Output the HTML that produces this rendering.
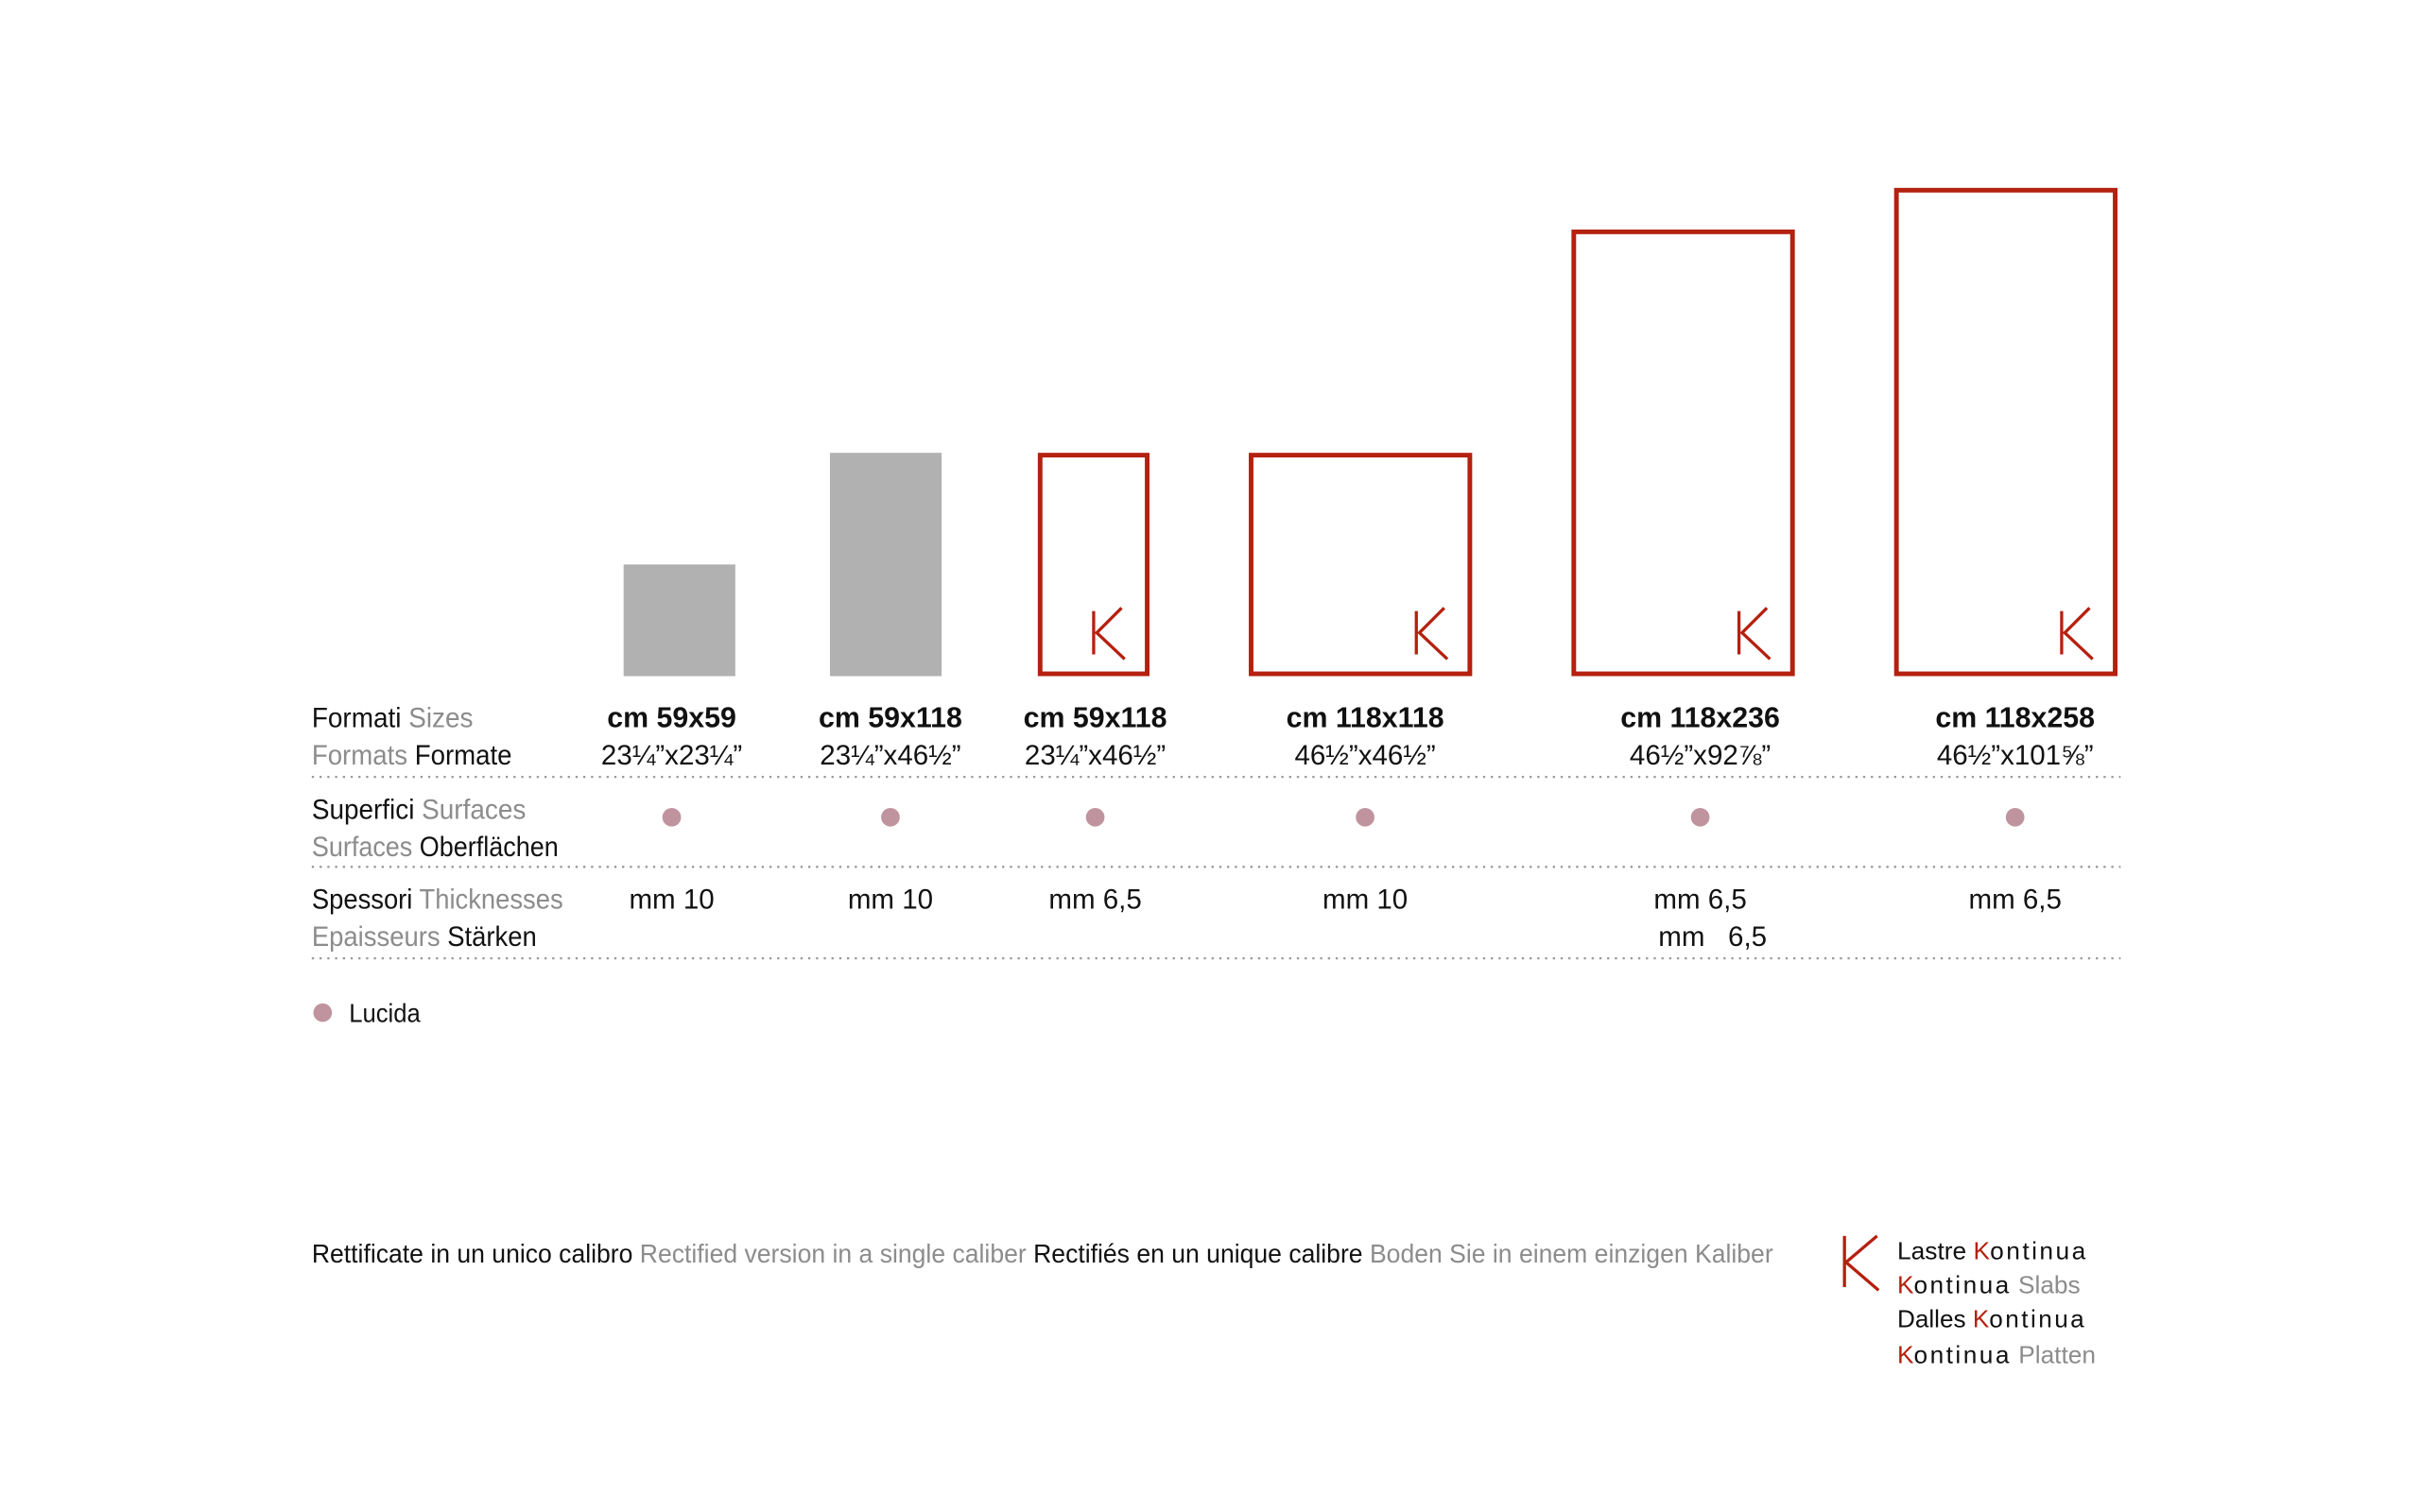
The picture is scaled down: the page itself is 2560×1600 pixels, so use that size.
<!DOCTYPE html>
<html><head><meta charset="utf-8"><style>
html,body{margin:0;padding:0;background:#fff;}
svg{display:block;}
text{font-family:"Liberation Sans Narrow","Liberation Sans",sans-serif;}
.b{font-family:"Liberation Sans",sans-serif;font-weight:bold;}
.r{font-family:"Liberation Sans",sans-serif;}
.g{fill:#8c8c8c;}
.k{fill:#111;}
</style></head><body>
<svg id="chart" width="2560" height="1600" viewBox="0 0 1560 975" xmlns="http://www.w3.org/2000/svg">
<g id="marks"></g>
<g id="labels"></g>
<g font-size="18">
<text x="201" y="469" textLength="104" lengthAdjust="spacingAndGlyphs"><tspan class="k">Formati</tspan><tspan class="g"> Sizes</tspan></text>
<text x="201" y="493" textLength="129" lengthAdjust="spacingAndGlyphs"><tspan class="g">Formats</tspan><tspan class="k"> Formate</tspan></text>
<text x="201" y="528" textLength="138" lengthAdjust="spacingAndGlyphs"><tspan class="k">Superfici</tspan><tspan class="g"> Surfaces</tspan></text>
<text x="201" y="552" textLength="159" lengthAdjust="spacingAndGlyphs"><tspan class="g">Surfaces</tspan><tspan class="k"> Oberflächen</tspan></text>
<text x="201" y="586" textLength="162" lengthAdjust="spacingAndGlyphs"><tspan class="k">Spessori</tspan><tspan class="g"> Thicknesses</tspan></text>
<text x="201" y="610" textLength="145" lengthAdjust="spacingAndGlyphs"><tspan class="g">Epaisseurs</tspan><tspan class="k"> Stärken</tspan></text>
</g>
<g stroke="#999" stroke-width="1.4" stroke-dasharray="1.4 3.6">
<line x1="201" y1="501" x2="1367" y2="501"/>
<line x1="201" y1="559" x2="1367" y2="559"/>
<line x1="201" y1="618" x2="1367" y2="618"/>
</g>
<g>
<circle cx="208" cy="653" r="6" fill="#c0949e"/>
<text x="225" y="659" font-size="17" class="k" textLength="46" lengthAdjust="spacingAndGlyphs">Lucida</text>
</g>
<text x="201" y="814" font-size="17" textLength="942" lengthAdjust="spacingAndGlyphs"><tspan class="k">Rettificate in un unico calibro</tspan><tspan class="g"> Rectified version in a single caliber</tspan><tspan class="k"> Rectifiés en un unique calibre</tspan><tspan class="g"> Boden Sie in einem einzigen Kaliber</tspan></text>
<g>
<path d="M1189 797 L1189 830 M1210 797 L1190 814 L1211 832" stroke="#b5200f" stroke-width="2" fill="none"/>
<g font-size="16">
<text x="1223" y="812" textLength="123" lengthAdjust="spacingAndGlyphs"><tspan class="k">Lastre </tspan><tspan fill="#b5200f">K</tspan><tspan class="k" letter-spacing="1.5">ontinua</tspan></text>
<text x="1223" y="834" textLength="118" lengthAdjust="spacingAndGlyphs"><tspan fill="#b5200f">K</tspan><tspan class="k" letter-spacing="1.5">ontinua</tspan><tspan class="g"> Slabs</tspan></text>
<text x="1223" y="856" textLength="122" lengthAdjust="spacingAndGlyphs"><tspan class="k">Dalles </tspan><tspan fill="#b5200f">K</tspan><tspan class="k" letter-spacing="1.5">ontinua</tspan></text>
<text x="1223" y="879" textLength="128" lengthAdjust="spacingAndGlyphs"><tspan fill="#b5200f">K</tspan><tspan class="k" letter-spacing="1.5">ontinua</tspan><tspan class="g"> Platten</tspan></text>
</g></g>
</svg>
<script>
const widthsCm = [59, 59, 59, 118, 118, 118];
const heightsCm = [59, 118, 118, 118, 236, 258];
const kontinua = [false, false, true, true, true, true];
const sizeLabels = ["cm 59x59","cm 59x118","cm 59x118","cm 118x118","cm 118x236","cm 118x258"];
const inchLabels = ["23¼”x23¼”","23¼”x46½”","23¼”x46½”","46½”x46½”","46½”x92⅞”","46½”x101⅝”"];
const thickness = ["mm 10","mm 10","mm 6,5","mm 10","mm 6,5","mm 6,5"];
const thickness2 = ["","","","","mm   6,5",""];
const surfaces = [true,true,true,true,true,true];

const NS = "http://www.w3.org/2000/svg";
const baseline = 436, pxPerCm = 72/59;
const boxCenters = [438, 571, 705, 877, 1085, 1293];
const labelCenters = [433, 574, 706, 880, 1096, 1299];
function sx(cm){ return cm * pxPerCm; }
function mk(tag, attrs, parent){ const e=document.createElementNS(NS,tag); for(const k in attrs) e.setAttribute(k,attrs[k]); parent.appendChild(e); return e; }
const marks = document.getElementById('marks');
const labels = document.getElementById('labels');
widthsCm.forEach((w,i)=>{
  const W=sx(w), H=sx(heightsCm[i]), x=boxCenters[i]-W/2, y=baseline-H;
  let r;
  if(kontinua[i]){
    r = mk('rect',{x:x+1.5,y:y+1.5,width:W-3,height:H-3,fill:'none',stroke:'#b5200f','stroke-width':3},marks);
    const k = mk('path',{d:`M${x+W-36} ${baseline-42} L${x+W-36} ${baseline-14} M${x+W-18} ${baseline-44} L${x+W-34} ${baseline-28} L${x+W-16} ${baseline-11}`,stroke:'#b5200f','stroke-width':2,fill:'none'},marks);
    
    
  } else {
    r = mk('rect',{x:x,y:y,width:W,height:H,fill:'#b1b1b2'},marks);
  }
  
  
  const cx=labelCenters[i];
  const t1=mk('text',{x:cx,y:469,'text-anchor':'middle','font-size':18.5,class:'b',fill:'#111'},labels); t1.textContent=sizeLabels[i];
  
  
  const t2=mk('text',{x:cx,y:493,'text-anchor':'middle','font-size':18,class:'r',fill:'#111'},labels); t2.textContent=inchLabels[i];
  
  
  if(surfaces[i]){
    const c=mk('circle',{cx:cx,cy:527,r:6,fill:'#c0949e'},labels);
    
    
  }
  const t3=mk('text',{x:cx,y:586,'text-anchor':'middle','font-size':18,class:'r',fill:'#111'},labels); t3.textContent=thickness[i];
  
  
  if(thickness2[i]){
    const t4=mk('text',{x:cx+8,y:610,'text-anchor':'middle','font-size':18,class:'r',fill:'#111'},labels); t4.textContent=thickness2[i];
    t4.setAttribute('style','white-space:pre');
    
    
  }
});
</script>
</body></html>
